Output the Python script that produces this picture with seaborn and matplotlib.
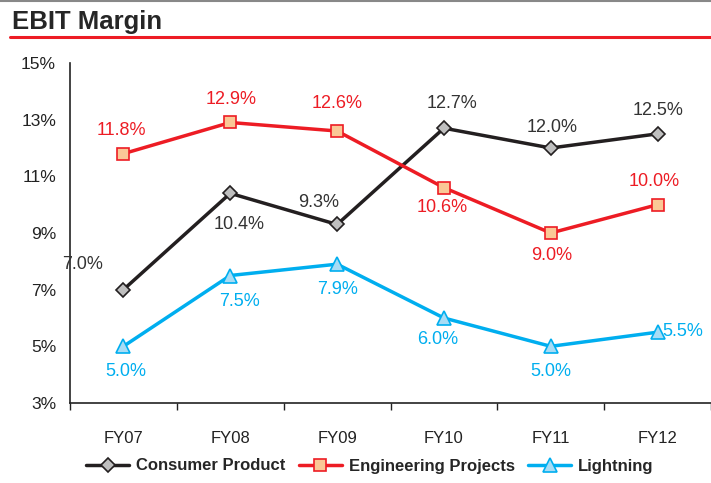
import numpy as np
import pandas as pd
import matplotlib
matplotlib.use('Agg')
import matplotlib.pyplot as plt
import seaborn as sns
from matplotlib.lines import Line2D

sns.set_style('white')
plt.rcParams['font.family'] = ['Liberation Sans', 'DejaVu Sans']

# Data
years = ['FY07', 'FY08', 'FY09', 'FY10', 'FY11', 'FY12']
consumer = [7.0, 10.4, 9.3, 12.7, 12.0, 12.5]
engineering = [11.8, 12.9, 12.6, 10.6, 9.0, 10.0]
lightning = [5.0, 7.5, 7.9, 6.0, 5.0, 5.5]
y_ticks = [3, 5, 7, 9, 11, 13, 15]

# label offsets in pixels (dx, dy) for each point
consumer_off = [(-41, 25), (9, -31), (-18, 22), (8, 25), (1, 21), (0, 23)]
engineering_off = [(-2, 23), (1, 23), (0, 27), (-2, -20), (1, -23), (-3, 23)]
lightning_off = [(2, -25), (9, -26), (0, -25), (-6, -21), (0, -25), (25, 1)]

series = [
    ('Consumer Product', consumer, consumer_off, '#231F20', 'D', '#BFBFBF', '#231F20', 7),
    ('Engineering Projects', engineering, engineering_off, '#ED1C24', 's', '#FAC896', '#ED1C24', 8),
    ('Lightning', lightning, lightning_off, '#00AEEF', '^', '#A8DCF5', '#00AEEF', 10),
]

fig = plt.figure(figsize=(7.11, 4.83), dpi=100)
ax = fig.add_axes([70 / 711, 80 / 483, 641 / 711, 340 / 483])

x = np.arange(len(years))
handles = []
for name, vals, offs, col, mk, fc, ec, ms in series:
    sns.lineplot(x=x, y=vals, ax=ax, color=col, linewidth=2.5, marker=mk,
                 markersize=ms, markerfacecolor=fc, markeredgecolor=ec,
                 markeredgewidth=1.2, zorder=3)
    for xi, v, (dx, dy) in zip(x, vals, offs):
        ax.annotate(f'{v:.1f}%', (xi, v), xytext=(dx, dy), textcoords='offset pixels',
                    ha='center', va='center', fontsize=13,
                    color=col if col != '#231F20' else '#333333')
    handles.append(Line2D([], [], color=col, linewidth=2.5, marker=mk, markersize=ms,
                          markerfacecolor=fc, markeredgecolor=ec, markeredgewidth=1.2))

ax.set_xlim(-0.5, 5.5)
ax.set_ylim(3, 15)
ax.set_xticks(x)
ax.set_xticklabels(years)
ax.set_xticks(np.arange(-0.5, 5.6, 1.0), minor=True)
ax.set_yticks(y_ticks)
ax.set_yticklabels([f'{t}%' for t in y_ticks])
ax.tick_params(axis='x', which='major', length=0, pad=20, labelsize=12, colors='#222222')
ax.tick_params(axis='x', which='minor', length=5, width=1, color='#222222', direction='out')
ax.tick_params(axis='y', length=5, width=1, color='#222222', direction='out', labelsize=12.5,
               labelcolor='#222222', pad=5)
ax.xaxis.set_tick_params(which='minor', bottom=True)
for s in ['top', 'right']:
    ax.spines[s].set_visible(False)
for s in ['left', 'bottom']:
    ax.spines[s].set_color('#222222')
    ax.spines[s].set_linewidth(1.2)

# header
fig.text(12 / 711, 1 - 22 / 483, 'EBIT Margin', fontsize=18.5, fontweight='bold', va='center', ha='left')
fig.add_artist(Line2D([10 / 711, 1], [1 - 37 / 483] * 2, color='#ED1C24', linewidth=2.2))
fig.add_artist(Line2D([0, 1], [1 - 1 / 483] * 2, color='#888888', linewidth=1.5))

leg = fig.legend(handles, [s[0] for s in series], loc='center', ncol=3,
                 bbox_to_anchor=(0.52, 1 - 466 / 483), frameon=False, handlelength=2.6,
                 columnspacing=0.8, handletextpad=0.4, prop={'weight': 'bold', 'size': 12})

fig.savefig('out.png', dpi=100)
